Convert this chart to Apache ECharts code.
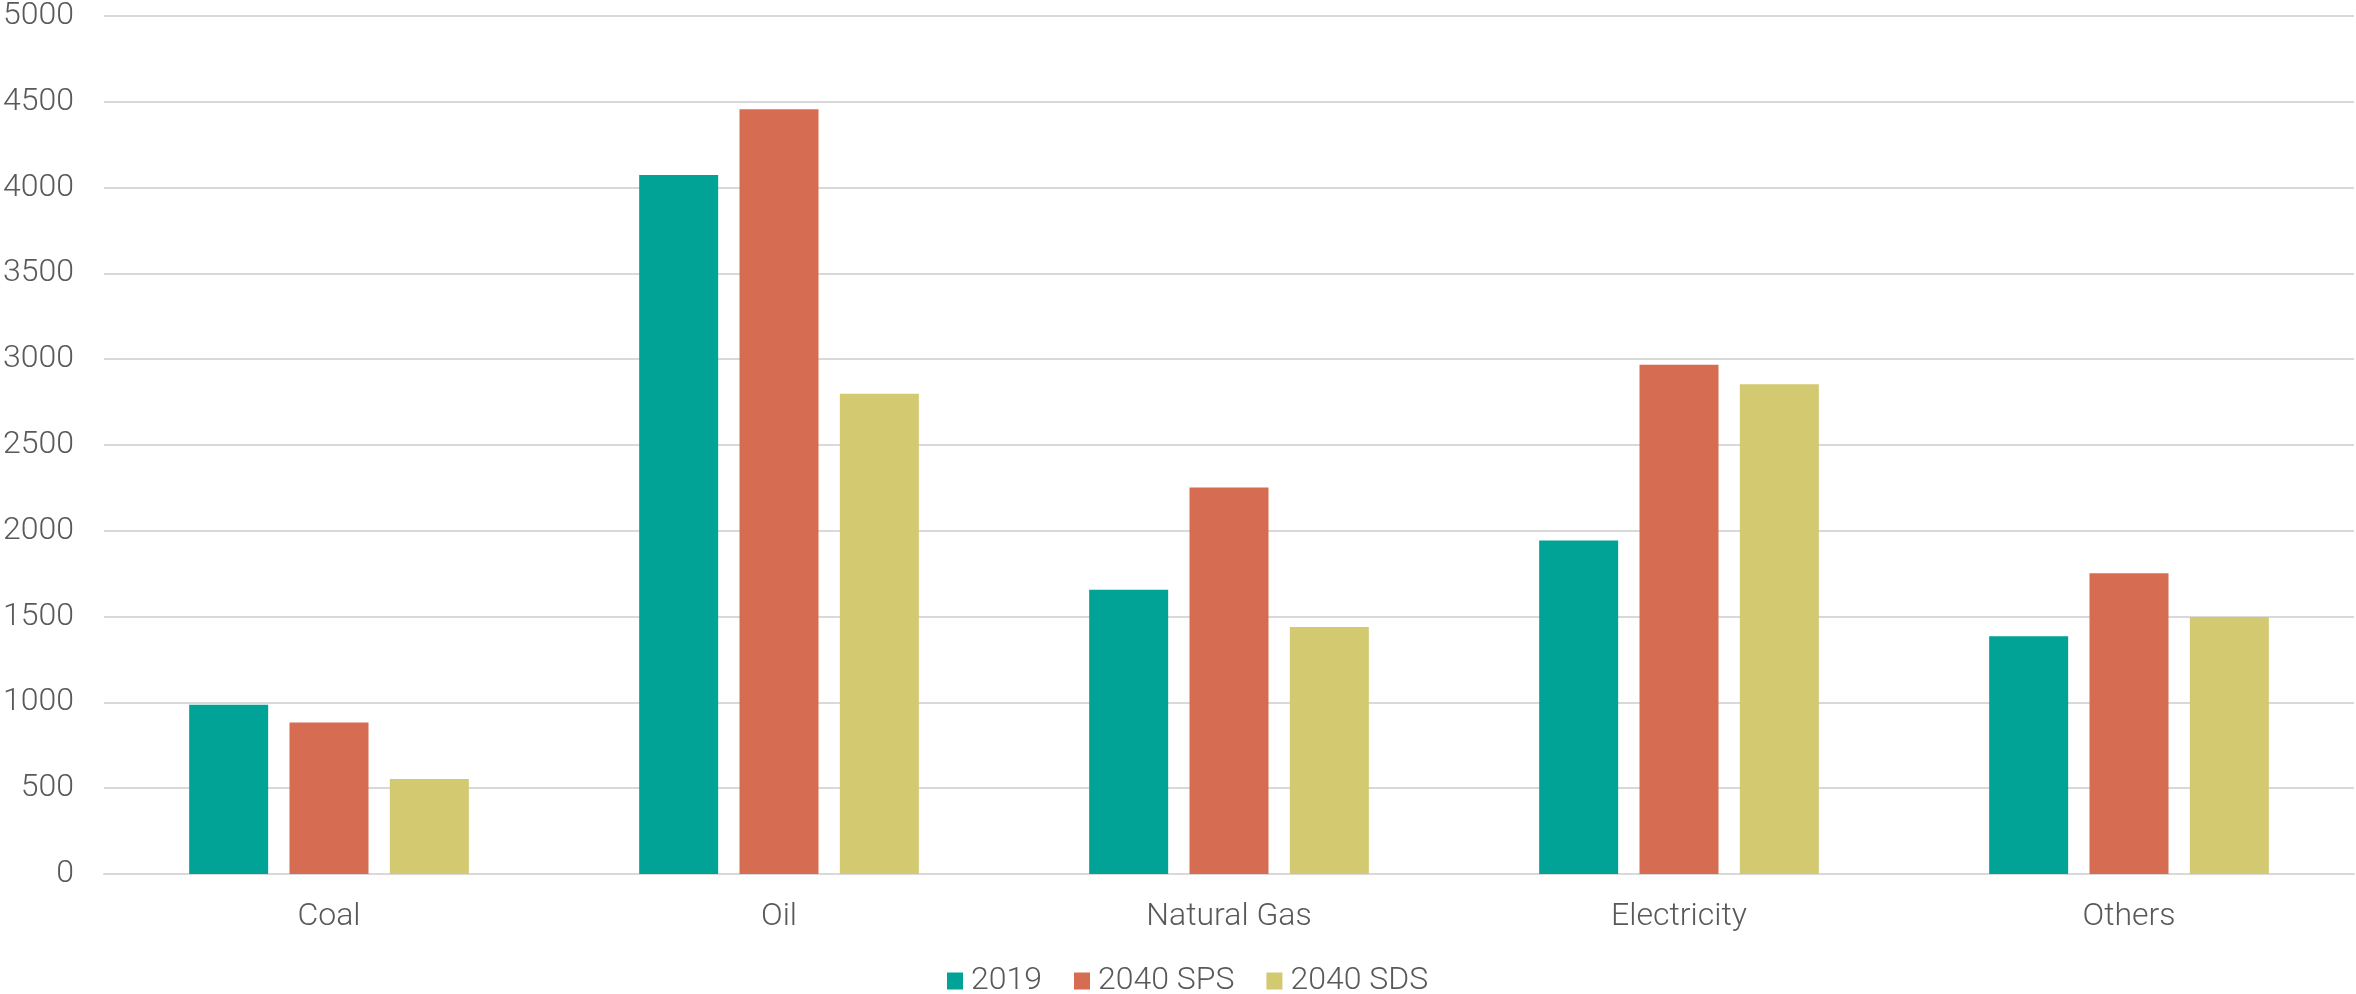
<!DOCTYPE html>
<html>
<head>
<meta charset="utf-8">
<script src="https://cdn.jsdelivr.net/npm/echarts@6/dist/echarts.min.js"></script>
<style>
  html, body { margin: 0; padding: 0; background: #fff; }
  #chart { width: 2356px; height: 994px; }
</style>
</head>
<body>
<div id="chart"></div>
<script>
// data
var categories = ['Coal', 'Oil', 'Natural Gas', 'Electricity', 'Others'];
var seriesNames = ['2019', '2040 SPS', '2040 SDS'];
var values2019 = [987, 4073, 1656, 1944, 1385];
var valuesSPS = [883, 4457, 2253, 2967, 1753];
var valuesSDS = [554, 2798, 1440, 2854, 1498];
var colors = ['#00A396', '#D66C51', '#D3C970'];

var textColor = '#595959';
var font = 'Roboto';

var myChart = echarts.init(document.getElementById('chart'));

function bar(name, data, color) {
	return {
		name: name,
		type: 'bar',
		data: data,
		barWidth: 79,
		barGap: '27%',
		itemStyle: { color: color }
	};
}

var option = {
	animation: false,
	color: colors,
	grid: {
		left: 102,
		right: 2,
		top: 15,
		bottom: 120
	},
	legend: {
		bottom: -8,
		left: 942,
		icon: 'rect',
		itemWidth: 16,
		itemHeight: 17,
		itemGap: 32,
		textStyle: {
			color: textColor,
			fontFamily: font,
			fontWeight: 300,
			fontSize: 32,
			padding: [0, 0, 0, 3]
		},
		data: seriesNames
	},
	xAxis: {
		type: 'category',
		data: categories,
		axisTick: { show: false },
		axisLine: { lineStyle: { color: '#d9d9d9', width: 2 } },
		axisLabel: {
			color: textColor,
			fontFamily: font,
			fontWeight: 300,
			fontSize: 32,
			margin: 27
		}
	},
	yAxis: {
		type: 'value',
		min: 0,
		max: 5000,
		interval: 500,
		axisLine: { show: false },
		axisTick: { show: false },
		splitLine: { lineStyle: { color: '#d9d9d9', width: 2 } },
		axisLabel: {
			color: textColor,
			fontFamily: font,
			fontWeight: 300,
			fontSize: 32,
			margin: 30,
			formatter: function (v) { return String(v); }
		}
	},
	series: [
		bar(seriesNames[0], values2019, colors[0]),
		bar(seriesNames[1], valuesSPS, colors[1]),
		bar(seriesNames[2], valuesSDS, colors[2])
	]
};

myChart.setOption(option);
</script>
</body>
</html>
